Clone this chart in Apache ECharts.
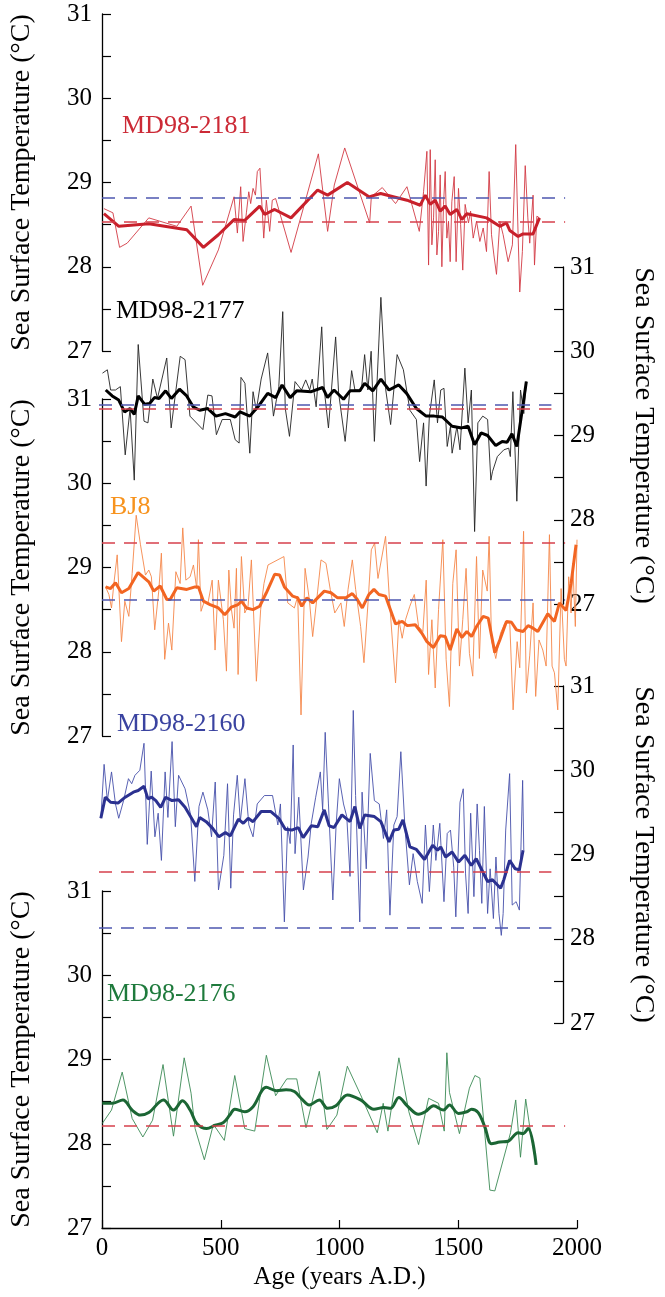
<!DOCTYPE html>
<html>
<head>
<meta charset="utf-8">
<script src="https://cdn.jsdelivr.net/npm/echarts/dist/echarts.min.js"></script>
<style>
  html, body { margin: 0; padding: 0; background: #fff; }
  #chart { width: 665px; height: 1297px; }
  .warm { position: absolute; left: 0; top: 0; font: 26px serif; color: rgba(0,0,0,0); pointer-events: none; }
</style>
</head>
<body>
<div id="chart"></div>
<div class="warm">Sea Surface Temperature (°C) MD98-2181 BJ8 Age (years A.D.) 0123456789</div>
<script>
// [year A.D., SST °C]
const md2181Raw = [[8,28.69],[46,28.64],[74,28.23],[106,28.28],[197,28.58],[315,28.48],[375,28.72],[424,27.78],[490,28.2],[556,28.83],[570,28.4],[584,28.95],[594,28.3],[608,28.64],[618,28.89],[626,28.75],[636,28.93],[646,28.85],[654,29.13],[665,29.17],[681,28.34],[692,28.79],[706,28.42],[717,28.79],[731,28.81],[796,28.17],[911,29.34],[950,28.42],[978,28.97],[1022,29.41],[1127,28.52],[1134,28.83],[1180,28.94],[1236,28.75],[1284,28.95],[1336,28.42],[1354,28.89],[1368,29.37],[1375,28.02],[1382,29.39],[1389,28.26],[1396,28.58],[1403,29.27],[1410,28.14],[1417,28.42],[1424,29.09],[1431,28.0],[1438,28.74],[1445,29.13],[1452,28.34],[1459,28.54],[1466,28.06],[1473,28.77],[1483,29.07],[1491,28.06],[1501,28.93],[1510,28.5],[1519,27.96],[1529,28.74],[1543,28.52],[1552,28.66],[1563,28.34],[1577,28.54],[1591,28.3],[1605,28.46],[1619,28.18],[1630,29.13],[1640,28.38],[1650,28.14],[1661,27.91],[1675,28.54],[1689,28.38],[1710,28.06],[1728,28.26],[1742,29.45],[1752,28.38],[1759,27.7],[1770,28.18],[1782,29.2],[1793,28.58],[1801,28.28],[1815,28.85],[1821,28.02],[1831,28.6],[1842,28.58]];
const md2181Mean = [[8,28.63],[71,28.48],[197,28.51],[357,28.44],[427,28.23],[490,28.38],[556,28.56],[601,28.55],[664,28.72],[685,28.62],[727,28.68],[796,28.58],[908,28.91],[950,28.85],[1033,29.0],[1124,28.83],[1173,28.87],[1284,28.79],[1340,28.73],[1361,28.85],[1382,28.74],[1403,28.79],[1424,28.66],[1445,28.72],[1466,28.62],[1494,28.68],[1515,28.56],[1536,28.63],[1619,28.58],[1675,28.48],[1703,28.52],[1717,28.43],[1752,28.36],[1773,28.39],[1815,28.39],[1842,28.58]];

const md2177Raw = [[15,29.74],[36,29.78],[50,29.54],[71,29.54],[92,29.58],[113,28.77],[134,29.32],[152,28.47],[169,30.08],[194,29.17],[211,29.15],[232,29.67],[252,29.44],[292,29.92],[311,29.09],[350,29.94],[371,29.9],[392,29.23],[448,29.07],[469,29.48],[487,29.47],[506,29.01],[531,29.19],[566,29.19],[587,28.95],[604,28.91],[612,29.69],[629,29.62],[650,28.79],[664,29.52],[678,29.3],[699,29.67],[727,29.98],[752,29.23],[775,29.58],[792,30.47],[803,29.32],[821,28.99],[845,29.64],[873,29.54],[891,29.66],[908,29.54],[919,29.67],[936,29.34],[960,30.29],[971,29.54],[989,29.09],[1020,30.17],[1033,29.5],[1061,28.93],[1089,29.77],[1103,29.54],[1131,29.54],[1145,29.96],[1159,29.54],[1173,30.0],[1187,28.93],[1215,30.64],[1236,29.54],[1257,29.13],[1285,29.96],[1312,29.78],[1340,29.3],[1368,29.19],[1382,28.69],[1399,29.15],[1410,28.4],[1424,29.23],[1445,29.66],[1459,29.15],[1473,29.54],[1487,29.56],[1501,28.87],[1515,29.11],[1522,28.79],[1543,29.11],[1556,28.83],[1577,29.8],[1591,29.15],[1605,29.54],[1619,27.86],[1633,29.15],[1654,29.23],[1675,29.19],[1689,28.47],[1696,28.57],[1717,28.75],[1745,28.83],[1766,28.85],[1773,28.75],[1784,29.52],[1801,28.22],[1817,29.54],[1831,29.26],[1842,29.64]];
const md2177Mean = [[29,29.54],[57,29.47],[85,29.42],[110,29.28],[134,29.32],[152,29.25],[169,29.47],[197,29.37],[218,29.38],[239,29.45],[259,29.44],[287,29.53],[312,29.44],[347,29.55],[378,29.47],[406,29.34],[434,29.3],[469,29.32],[504,29.23],[545,29.26],[587,29.22],[608,29.28],[650,29.23],[685,29.34],[727,29.5],[762,29.45],[789,29.6],[824,29.45],[852,29.53],[915,29.52],[964,29.57],[985,29.45],[1013,29.54],[1054,29.43],[1082,29.53],[1124,29.53],[1145,29.62],[1180,29.53],[1215,29.67],[1250,29.54],[1292,29.6],[1326,29.5],[1368,29.32],[1410,29.23],[1445,29.23],[1480,29.22],[1522,29.11],[1563,29.09],[1591,29.11],[1619,28.89],[1647,29.03],[1675,29.0],[1710,28.88],[1738,28.93],[1759,28.92],[1780,29.02],[1801,28.87],[1822,29.26],[1842,29.64]];

const bj8Raw = [[15,28.77],[29,28.68],[40,28.52],[50,28.81],[64,29.15],[82,28.12],[96,28.6],[113,28.42],[127,28.93],[144,29.62],[162,29.27],[183,28.91],[197,28.97],[208,28.89],[222,28.26],[239,28.72],[250,29.17],[264,27.91],[280,28.34],[294,28.02],[311,28.95],[329,28.81],[340,29.47],[353,28.85],[371,28.89],[385,29.03],[399,28.75],[406,29.33],[417,28.48],[431,28.6],[445,28.56],[464,28.85],[476,28.02],[490,28.85],[511,28.38],[524,27.77],[534,28.97],[545,28.5],[556,28.28],[566,28.99],[573,27.73],[587,29.13],[601,28.46],[615,28.54],[629,29.09],[650,27.65],[668,28.5],[682,28.81],[699,29.03],[766,29.13],[782,28.58],[810,28.52],[824,28.66],[838,27.25],[855,28.99],[873,28.62],[887,28.18],[908,28.72],[922,29.09],[943,29.05],[961,28.74],[980,28.46],[1006,28.58],[1020,28.3],[1036,28.74],[1054,29.09],[1068,28.74],[1089,28.3],[1103,27.87],[1120,28.58],[1134,29.21],[1148,29.29],[1162,28.87],[1194,29.37],[1212,28.54],[1236,27.63],[1250,28.38],[1264,28.16],[1278,28.38],[1296,28.54],[1315,28.68],[1333,28.3],[1351,28.24],[1365,28.85],[1375,27.73],[1389,28.38],[1403,27.57],[1417,28.5],[1435,29.33],[1449,27.91],[1463,27.35],[1477,28.81],[1491,29.21],[1505,27.83],[1519,28.38],[1533,28.99],[1547,27.98],[1561,27.71],[1577,29.13],[1589,27.92],[1603,28.97],[1622,28.72],[1630,29.37],[1640,28.14],[1658,27.92],[1678,28.22],[1696,28.34],[1717,28.34],[1731,27.31],[1748,28.12],[1759,27.81],[1775,29.43],[1787,27.51],[1801,27.96],[1815,28.58],[1826,27.47],[1840,28.14],[1856,28.02],[1870,27.83],[1884,29.39],[1895,27.83],[1905,27.75],[1919,27.31],[1933,28.75],[1947,27.91],[1954,27.83],[1965,28.89],[1975,28.46],[1982,29.05],[1993,28.3],[2000,29.33]];
const bj8Mean = [[15,28.77],[36,28.75],[57,28.82],[82,28.7],[113,28.75],[152,28.94],[197,28.83],[218,28.72],[245,28.78],[273,28.62],[287,28.62],[315,28.76],[357,28.74],[392,28.77],[406,28.77],[427,28.6],[455,28.56],[490,28.52],[517,28.44],[545,28.53],[573,28.56],[587,28.6],[608,28.52],[636,28.5],[664,28.54],[692,28.7],[727,28.92],[748,28.91],[768,28.77],[803,28.66],[824,28.64],[841,28.54],[863,28.64],[887,28.58],[936,28.72],[964,28.7],[992,28.64],[1027,28.64],[1054,28.69],[1075,28.62],[1096,28.52],[1124,28.68],[1145,28.74],[1166,28.68],[1194,28.66],[1236,28.33],[1264,28.36],[1285,28.31],[1319,28.32],[1347,28.22],[1368,28.12],[1396,28.05],[1424,28.19],[1445,28.18],[1466,28.02],[1494,28.27],[1515,28.17],[1536,28.24],[1556,28.18],[1577,28.3],[1605,28.42],[1626,28.4],[1654,27.99],[1675,28.14],[1703,28.36],[1724,28.35],[1745,28.26],[1773,28.24],[1794,28.31],[1815,28.28],[1835,28.24],[1877,28.45],[1905,28.36],[1926,28.58],[1954,28.49],[1975,28.81],[1996,29.27]];

const md2160Raw = [[8,29.43],[22,30.07],[36,29.64],[54,29.98],[71,29.6],[85,29.43],[106,29.64],[127,29.9],[141,29.84],[155,29.94],[176,30.0],[194,30.32],[208,29.12],[225,29.99],[241,29.21],[255,29.49],[269,28.93],[285,29.98],[297,29.44],[315,30.34],[329,29.33],[343,29.94],[371,29.78],[395,29.47],[413,28.68],[431,29.57],[448,29.74],[469,29.53],[485,29.21],[501,29.86],[515,28.58],[538,28.99],[554,29.84],[568,28.6],[580,29.47],[596,29.94],[609,29.39],[629,29.9],[646,29.35],[664,29.21],[682,29.6],[713,29.7],[748,29.7],[771,29.35],[782,29.6],[799,28.2],[813,29.33],[824,29.13],[837,30.3],[845,29.01],[861,29.68],[881,28.58],[901,28.97],[915,29.37],[934,29.68],[954,29.98],[964,29.53],[975,30.45],[989,29.6],[1008,28.46],[1022,29.35],[1036,29.9],[1054,29.6],[1068,29.45],[1082,28.74],[1096,30.71],[1106,29.7],[1124,28.2],[1134,29.74],[1152,28.83],[1169,30.2],[1187,29.64],[1208,29.6],[1226,29.19],[1240,29.53],[1254,28.28],[1271,29.35],[1285,29.45],[1301,30.22],[1319,29.31],[1338,28.64],[1354,29.01],[1372,28.68],[1393,28.42],[1407,29.35],[1424,28.56],[1441,29.35],[1452,28.93],[1469,29.37],[1487,28.44],[1501,29.25],[1515,29.29],[1529,28.85],[1538,28.26],[1556,29.62],[1570,29.78],[1580,28.77],[1591,28.3],[1602,29.49],[1616,28.5],[1630,29.6],[1640,29.05],[1650,28.42],[1661,29.57],[1675,28.3],[1686,28.83],[1700,28.24],[1711,28.97],[1724,28.3],[1734,28.04],[1742,28.3],[1753,29.29],[1770,29.96],[1781,28.4],[1798,28.44],[1812,28.34],[1826,29.88],[1831,29.05]];
const md2160Mean = [[8,29.43],[27,29.68],[50,29.62],[82,29.61],[113,29.68],[148,29.74],[169,29.76],[194,29.81],[211,29.66],[227,29.68],[245,29.64],[266,29.56],[287,29.68],[315,29.64],[343,29.65],[371,29.56],[399,29.43],[420,29.33],[434,29.44],[462,29.39],[490,29.31],[517,29.21],[545,29.26],[566,29.22],[601,29.42],[622,29.37],[643,29.43],[664,29.39],[699,29.51],[741,29.51],[775,29.43],[803,29.3],[831,29.29],[859,29.32],[880,29.2],[915,29.34],[943,29.33],[971,29.53],[992,29.34],[1013,29.32],[1047,29.47],[1082,29.39],[1103,29.57],[1124,29.31],[1145,29.47],[1187,29.45],[1215,29.39],[1250,29.15],[1271,29.29],[1292,29.3],[1310,29.41],[1340,29.09],[1368,29.06],[1403,28.94],[1438,29.11],[1459,29.05],[1473,29.09],[1494,28.97],[1522,29.03],[1550,28.91],[1577,28.99],[1605,28.87],[1626,28.95],[1675,28.68],[1696,28.7],[1731,28.6],[1745,28.7],[1770,28.93],[1794,28.83],[1812,28.82],[1828,29.05]];

const md2176Raw = [[1,28.24],[40,28.4],[85,28.85],[127,28.3],[172,28.08],[213,28.28],[257,28.94],[301,28.09],[346,29.02],[375,28.6],[392,28.18],[431,27.81],[469,28.23],[515,28.04],[559,28.81],[601,28.18],[643,28.15],[692,29.05],[731,28.57],[778,28.77],[820,28.77],[859,28.19],[915,28.86],[947,28.17],[989,28.34],[1033,28.92],[1089,28.58],[1159,28.13],[1184,28.48],[1204,28.15],[1250,29.02],[1292,28.38],[1333,27.99],[1375,28.54],[1417,28.48],[1441,28.15],[1452,29.08],[1463,28.61],[1505,28.12],[1547,28.66],[1570,28.81],[1591,28.78],[1633,27.45],[1654,27.44],[1720,28.13],[1742,28.52],[1762,27.84],[1784,28.53],[1801,28.2],[1828,27.75]];
const md2176Mean = [[1,28.48],[43,28.48],[88,28.52],[127,28.4],[162,28.34],[197,28.37],[259,28.52],[301,28.4],[339,28.51],[371,28.4],[399,28.24],[441,28.18],[476,28.22],[510,28.25],[538,28.34],[559,28.41],[601,28.38],[636,28.44],[692,28.67],[734,28.63],[775,28.64],[810,28.62],[838,28.54],[873,28.46],[915,28.52],[950,28.42],[985,28.45],[1033,28.58],[1089,28.52],[1145,28.41],[1187,28.43],[1215,28.42],[1250,28.55],[1285,28.45],[1333,28.35],[1361,28.38],[1396,28.45],[1438,28.4],[1463,28.46],[1501,28.36],[1536,28.38],[1556,28.41],[1584,28.37],[1612,28.2],[1640,28.0],[1675,28.02],[1710,28.03],[1752,28.13],[1773,28.12],[1794,28.18],[1828,27.75]];

// dashed reference levels per panel
const refRed = [28.53, 29.32, 29.29, 28.8, 28.21];
const refBlue = [28.82, 29.37, 28.62, 28.13, null];
const refEnd = 1950;

const panelNames = ['MD98-2181', 'MD98-2177', 'BJ8', 'MD98-2160', 'MD98-2176'];

const tops = [14, 267, 399, 686, 891];
const sides = ['left', 'right', 'left', 'right', 'left'];
const rawColors = ['#d23a44', '#222222', '#f5874a', '#4650aa', '#3b8a55'];
const meanColors = ['#c8202b', '#000000', '#f26522', '#2b3190', '#1b6634'];
const labelColors = ['#cc2a36', '#000000', '#f7931e', '#3a43a0', '#1e7a3c'];
const labelPos = [[122, 128], [116, 313], [110, 509], [117, 726], [107, 996]];

const grids = tops.map(t => ({ left: 99, right: 88, top: t, height: 337 }));

const xAxes = tops.map((t, i) => ({
  gridIndex: i,
  type: 'value',
  min: 0,
  max: 2000,
  interval: 500,
  show: i === 4,
  name: i === 4 ? 'Age (years A.D.)' : '',
  nameLocation: 'middle',
  nameGap: 37,
  nameTextStyle: { fontFamily: 'serif', fontSize: 25, color: '#000' },
  axisLine: { onZero: false, lineStyle: { color: '#000', width: 1.3 } },
  axisTick: { inside: true, length: 8, lineStyle: { color: '#000', width: 1.2 } },
  axisLabel: { fontFamily: 'serif', fontSize: 25, color: '#000', margin: 8, formatter: v => String(v) },
  splitLine: { show: false }
}));

const yAxes = tops.map((t, i) => ({
  gridIndex: i,
  type: 'value',
  position: sides[i],
  min: 27,
  max: 31,
  interval: 0.5,
  name: 'Sea Surface Temperature (°C)',
  nameLocation: 'middle',
  nameRotate: sides[i] === 'left' ? 90 : -90,
  nameGap: sides[i] === 'left' ? 66 : 66,
  nameTextStyle: { fontFamily: 'serif', fontSize: 28, color: '#000' },
  axisLine: { show: true, onZero: false, lineStyle: { color: '#000', width: 1.3 } },
  axisTick: { inside: true, length: 9, lineStyle: { color: '#000', width: 1.2 } },
  axisLabel: {
    fontFamily: 'serif', fontSize: 25, color: '#000', margin: sides[i] === 'left' ? 10 : 7,
    formatter: v => (Number.isInteger(v) ? String(v) : '')
  },
  splitLine: { show: false }
}));

function refLine(v, color) {
  const ls = { color: color, type: [13, 9], width: 1.5 };
  return [{ coord: [0, v], lineStyle: ls }, { coord: [refEnd, v], lineStyle: ls }];
}

const rawSets = [md2181Raw, md2177Raw, bj8Raw, md2160Raw, md2176Raw];
const meanSets = [md2181Mean, md2177Mean, bj8Mean, md2160Mean, md2176Mean];

const series = [];
rawSets.forEach((d, i) => {
  const marks = [];
  if (refRed[i] != null) marks.push(refLine(refRed[i], '#d6404c'));
  if (refBlue[i] != null) marks.push(refLine(refBlue[i], '#4d57b0'));
  series.push({
    type: 'line',
    name: panelNames[i] + ' raw',
    xAxisIndex: i,
    yAxisIndex: i,
    data: d,
    symbol: 'none',
    clip: false,
    z: 2,
    lineStyle: { color: rawColors[i], width: 0.9 },
    markLine: { silent: true, symbol: 'none', label: { show: false }, data: marks }
  });
  series.push({
    type: 'line',
    name: panelNames[i] + ' mean',
    xAxisIndex: i,
    yAxisIndex: i,
    data: meanSets[i],
    symbol: 'none',
    clip: false,
    smooth: i === 4 ? 0.35 : false,
    z: 3,
    lineStyle: { color: meanColors[i], width: 3 }
  });
});

const graphic = panelNames.map((n, i) => ({
  type: 'text',
  left: labelPos[i][0],
  top: labelPos[i][1] - 15,
  style: { text: n, fontFamily: 'serif', fontSize: 26, fill: labelColors[i] }
}));

const chart = echarts.init(document.getElementById('chart'));
chart.setOption({
  animation: false,
  textStyle: { fontFamily: 'serif' },
  grid: grids,
  xAxis: xAxes,
  yAxis: yAxes,
  series: series,
  graphic: graphic
});
</script>
</body>
</html>
